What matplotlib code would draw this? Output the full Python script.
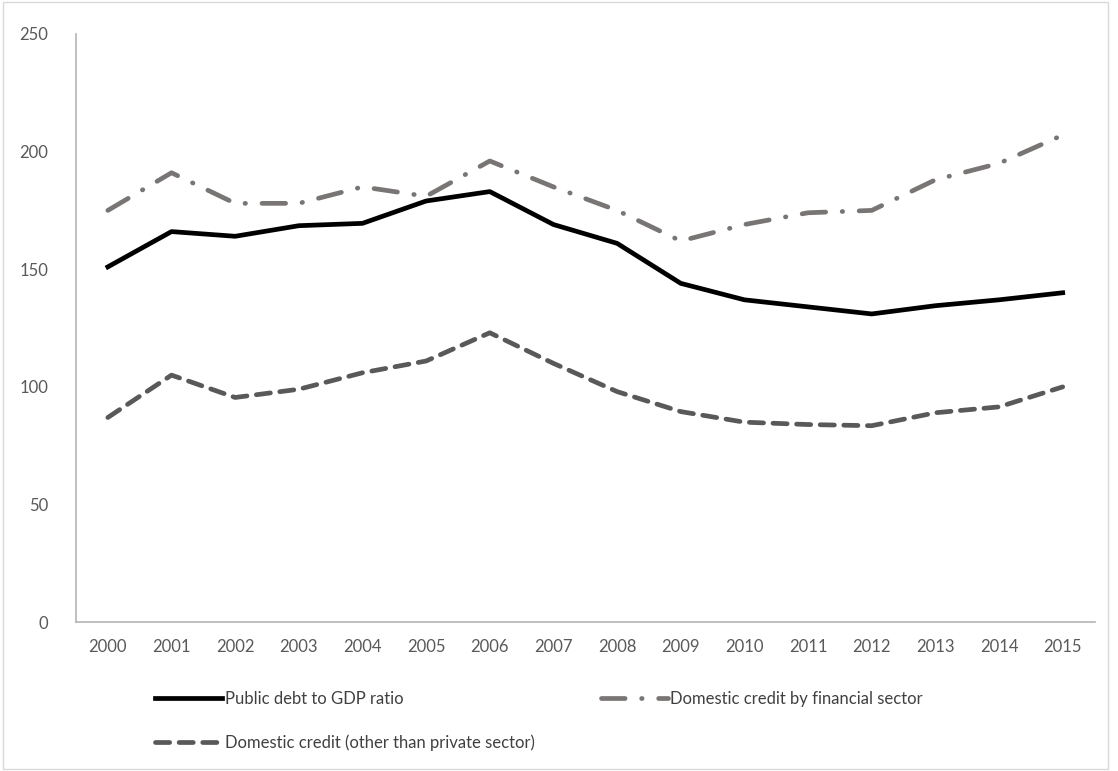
import matplotlib.pyplot as plt
import numpy as np

years = [str(y) for y in range(2000, 2016)]
public_debt = [151, 166, 164, 168.5, 169.5, 179, 183, 169, 161, 144, 137, 134, 131, 134.5, 137, 140]
credit_financial = [175, 191, 178, 178, 185, 181, 196, 185, 175, 162, 169, 174, 175, 188, 195, 207]
credit_other = [87, 105, 95.5, 99, 106, 111, 123, 110, 98, 89.5, 85, 84, 83.5, 89, 91.5, 100]

plt.rcParams['font.family'] = ['Lato', 'DejaVu Sans']

fig = plt.figure(figsize=(11.18, 7.71), dpi=100)
ax = fig.add_axes([0.068, 0.193, 0.911, 0.763])

x = np.arange(len(years))
l1, = ax.plot(x, public_debt, color='black', lw=3.4, solid_joinstyle='round',
              label='Public debt to GDP ratio')
l2, = ax.plot(x, credit_financial, color='#7a7575', lw=3.4, dashes=(5, 3.5, 0.1, 3.5),
              dash_capstyle='round', label='Domestic credit by financial sector')
l3, = ax.plot(x, credit_other, color='#595959', lw=3.4, dashes=(3, 2),
              dash_capstyle='round', label='Domestic credit (other than private sector)')

ax.set_xlim(-0.5, len(years) - 0.5)
ax.set_ylim(0, 250)
ax.set_yticks(range(0, 251, 50))
ax.set_xticks(x)
ax.set_xticklabels(years)
ax.tick_params(length=0, labelsize=12, colors='#595959', pad=12)
ax.tick_params(axis='y', pad=20)
for s in ['top', 'right']:
    ax.spines[s].set_visible(False)
for s in ['left', 'bottom']:
    ax.spines[s].set_color('#b4b4b4')
    ax.spines[s].set_linewidth(1.2)

leg = fig.legend([l1, l3, l2], [l1.get_label(), l3.get_label(), l2.get_label()],
                 ncol=2, loc='upper left', bbox_to_anchor=(0.133, 0.113),
                 frameon=False, fontsize=12, handlelength=4.0, handletextpad=0.15,
                 columnspacing=4.0, labelspacing=1.65, borderaxespad=0)
for t in leg.get_texts():
    t.set_color('#404040')

# thin frame round the whole figure
fig.patches.append(plt.Rectangle((0.003, 0.003), 0.988, 0.994, transform=fig.transFigure,
                                 fill=False, edgecolor='#d9d9d9', lw=1))

fig.savefig('out.png', dpi=100)
